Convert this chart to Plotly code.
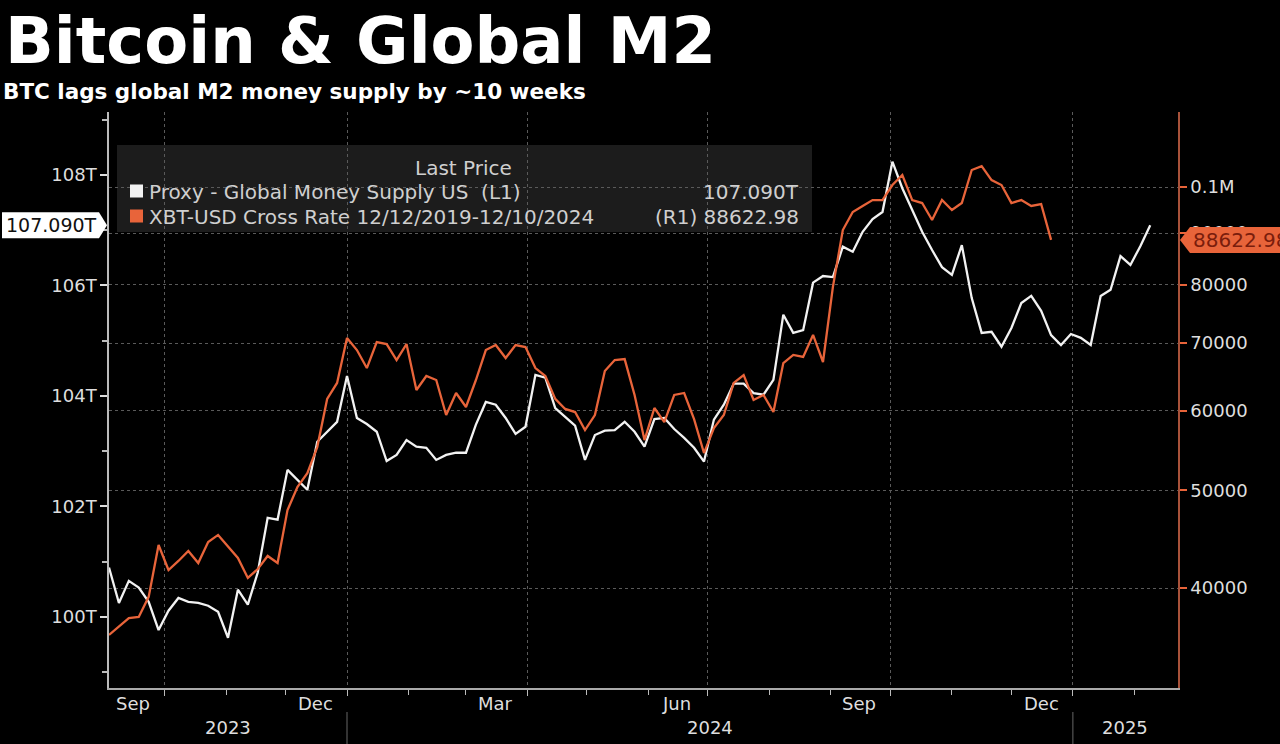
import numpy as np
import pandas as pd
import plotly.graph_objects as go

# ---------------- data ----------------
START_DATE = "2023-09-03"
STEP = "5D"

m2_trillions = [
    100.89, 100.25, 100.65, 100.53, 100.27, 99.76, 100.11, 100.34, 100.27, 100.25,
    100.20, 100.09, 99.62, 100.49, 100.22, 100.80, 101.79, 101.76, 102.66, 102.48,
    102.30, 103.17, 103.35, 103.53, 104.36, 103.60, 103.49, 103.35, 102.82, 102.93,
    103.20, 103.08, 103.06, 102.84, 102.93, 102.97, 102.97, 103.48, 103.89, 103.84,
    103.60, 103.31, 103.44, 104.38, 104.33, 103.78, 103.62, 103.46, 102.84, 103.29,
    103.37, 103.38, 103.53, 103.35, 103.08, 103.58, 103.60, 103.40, 103.24, 103.06,
    102.81, 103.57, 103.84, 104.22, 104.22, 104.05, 104.02, 104.29, 105.47, 105.14,
    105.19, 106.05, 106.17, 106.15, 106.70, 106.61, 106.97, 107.20, 107.33, 108.24,
    107.76, 107.37, 106.97, 106.64, 106.33, 106.19, 106.73, 105.77, 105.14, 105.16,
    104.89, 105.23, 105.68, 105.81, 105.54, 105.10, 104.92, 105.12, 105.05, 104.92,
    105.81, 105.92, 106.53, 106.37, 106.71, 107.090,
]

btc_usd = [
    35940, 36680, 37360, 37450, 39210, 44140, 41690, 42560, 43540, 42360,
    44450, 45170, 43940, 42850, 40940, 41780, 43050, 42360, 47800, 50380,
    52020, 55210, 61630, 63920, 70830, 68910, 66130, 70180, 69860, 67350,
    69860, 62900, 64940, 64350, 59400, 62470, 60500, 64350, 68910, 69700,
    67660, 69700, 69380, 66130, 64940, 61630, 60230, 59810, 57400, 59400,
    65690, 67350, 67500, 62190, 56100, 60360, 58450, 62190, 62470, 58850,
    54460, 57670, 59400, 63920, 65090, 61480, 62190, 59810, 66890, 68150,
    67840, 71330, 67050, 79600, 90640, 94450, 95760, 97070, 97070, 100460,
    102780, 97070, 96410, 92740, 97070, 94880, 96410, 103960, 104910, 101610,
    100460, 96410, 97070, 95760, 96190, 88622.98,
]

left_tick_vals = [100, 102, 104, 106, 108]
left_tick_text = ["100T", "102T", "104T", "106T", "108T"]
right_tick_vals = [40000, 50000, 60000, 70000, 80000, 90000, 100000]
right_tick_text = ["40000", "50000", "60000", "70000", "80000", "90000", "0.1M"]

month_labels = ["Sep", "Dec", "Mar", "Jun", "Sep", "Dec"]
month_label_dates = ["2023-09-15", "2023-12-16", "2024-03-16",
                     "2024-06-15", "2024-09-15", "2024-12-16"]
quarter_starts = ["2023-10-01", "2024-01-01", "2024-04-01",
                  "2024-07-01", "2024-10-01", "2025-01-01"]
year_labels = ["2023", "2024", "2025"]
year_starts = ["2024-01-01", "2025-01-01"]

TITLE = "Bitcoin & Global M2"
SUBTITLE = "BTC lags global M2 money supply by ~10 weeks"
M2_NAME = "Proxy - Global Money Supply US"
BTC_NAME = "XBT-USD Cross Rate 12/12/2019-12/10/2024"

# ---------------- style ----------------
WHITE = "#f2f2f2"
ORANGE = "#e8643a"
TXT = "#dedede"
GRID = "#5a5a5a"
FONT = "DejaVu Sans"

X_RANGE = ["2023-09-03", "2025-02-23"]
Y1 = [98.71, 109.14]
Y2 = [np.log10(31840), np.log10(118700)]

ML, MR, MT, MB = 109, 102, 112, 56
W, H = 1280 - ML - MR, 744 - MT - MB


def px(d):
    return d / W


def ph(d):
    return d / H


def py1(v):
    return (v - Y1[0]) / (Y1[1] - Y1[0])


def py2(v):
    return (np.log10(v) - Y2[0]) / (Y2[1] - Y2[0])


m2_dates = pd.date_range(START_DATE, periods=len(m2_trillions), freq=STEP)
btc_dates = pd.date_range(START_DATE, periods=len(btc_usd), freq=STEP)

fig = go.Figure()
fig.add_trace(go.Scatter(x=btc_dates, y=btc_usd, yaxis="y2", mode="lines",
                         line=dict(color=ORANGE, width=2.3), name=BTC_NAME,
                         showlegend=False))
fig.add_trace(go.Scatter(x=m2_dates, y=m2_trillions, yaxis="y", mode="lines",
                         line=dict(color=WHITE, width=2.3), name=M2_NAME,
                         showlegend=False))

fig.update_layout(
    width=1280, height=744,
    margin=dict(l=ML, r=MR, t=MT, b=MB),
    paper_bgcolor="#000000", plot_bgcolor="rgba(0,0,0,0)",
    font=dict(family=FONT, color=TXT, size=18),
    showlegend=False,
    xaxis=dict(
        type="date", range=X_RANGE, tickvals=quarter_starts, showticklabels=False,
        ticks="outside", ticklen=6, tickcolor="#bbbbbb",
        showgrid=True, gridcolor=GRID, griddash="dot", gridwidth=1,
        showline=True, linecolor="#aaaaaa", linewidth=1.5, zeroline=False,
        minor=dict(dtick="M1", tick0="2023-09-01", ticks="outside", ticklen=5,
                   tickcolor="#bbbbbb", showgrid=False),
    ),
    yaxis=dict(
        range=Y1, tickvals=left_tick_vals, ticktext=left_tick_text,
        ticks="outside", ticklen=7, tickcolor="#dddddd", tickwidth=2,
        showgrid=False, zeroline=False, showline=True, linecolor="#bbbbbb",
        linewidth=1.5, tickfont=dict(size=18, color=TXT),
        minor=dict(dtick=1, tick0=99, ticks="outside", ticklen=5,
                   tickcolor="#bbbbbb", showgrid=False),
    ),
    yaxis2=dict(
        type="log", range=Y2, overlaying="y", side="right",
        tickvals=right_tick_vals, ticktext=right_tick_text,
        ticks="outside", ticklen=7, tickcolor=ORANGE, tickwidth=2,
        showgrid=True, gridcolor=GRID, griddash="dot", gridwidth=1,
        zeroline=False, showline=True, linecolor="#a8523a", linewidth=1.5,
        tickfont=dict(size=18, color=TXT),
    ),
)

shapes = []
ann = []

# legend box
shapes.append(dict(type="rect", xref="paper", yref="paper", layer="below",
                   x0=px(8), x1=px(703), y0=1 - ph(120), y1=1 - ph(33),
                   fillcolor="#1c1c1c", line=dict(width=0)))
# legend squares
for i, col in enumerate([WHITE, ORANGE]):
    yc = 1 - ph(79 + 25 * i)
    shapes.append(dict(type="rect", xref="paper", yref="paper",
                       x0=px(21), x1=px(34), y0=yc - ph(6.5), y1=yc + ph(6.5),
                       fillcolor=col, line=dict(width=0)))

ann.append(dict(text="Last Price", xref="paper", yref="paper", x=px(354),
                y=1 - ph(56), xanchor="center", yanchor="middle", showarrow=False,
                font=dict(size=20, color="#cfcfcf", family=FONT)))
ann.append(dict(text=M2_NAME + "  (L1)", xref="paper", yref="paper", x=px(38),
                y=1 - ph(80), xanchor="left", yanchor="middle", showarrow=False,
                font=dict(size=20, color="#cfcfcf", family=FONT)))
ann.append(dict(text=f"{m2_trillions[-1]:.3f}T", xref="paper", yref="paper",
                x=px(692), y=1 - ph(80), xanchor="right", yanchor="middle",
                showarrow=False, font=dict(size=20, color="#cfcfcf", family=FONT)))
ann.append(dict(text=BTC_NAME, xref="paper", yref="paper", x=px(38),
                y=1 - ph(105), xanchor="left", yanchor="middle", showarrow=False,
                font=dict(size=20, color="#cfcfcf", family=FONT)))
ann.append(dict(text=f"(R1) {btc_usd[-1]:.2f}", xref="paper", yref="paper",
                x=px(692), y=1 - ph(105), xanchor="right", yanchor="middle",
                showarrow=False, font=dict(size=20, color="#cfcfcf", family=FONT)))

# left value tag
yc = py1(m2_trillions[-1])
hh = ph(13)
x0, x1, xp = px(-107), px(-10), px(-2)
shapes.append(dict(type="path", xref="paper", yref="paper",
                   path=f"M {x0},{yc-hh} L {x1},{yc-hh} L {xp},{yc} L {x1},{yc+hh} L {x0},{yc+hh} Z",
                   fillcolor="#ffffff", line=dict(width=0)))
ann.append(dict(text=f"{m2_trillions[-1]:.3f}T", xref="paper", yref="paper",
                x=px(-58), y=yc, xanchor="center", yanchor="middle",
                showarrow=False, font=dict(size=19, color="#111111", family=FONT)))

# right value tag
yc2 = py2(btc_usd[-1])
x0, x1, xp = 1 + px(12), 1 + px(110), 1 + px(2)
shapes.append(dict(type="path", xref="paper", yref="paper",
                   path=f"M {xp},{yc2} L {x0},{yc2+hh} L {x1},{yc2+hh} L {x1},{yc2-hh} L {x0},{yc2-hh} Z",
                   fillcolor=ORANGE, line=dict(width=0)))
ann.append(dict(text=f"{btc_usd[-1]:.2f}", xref="paper", yref="paper",
                x=1 + px(13), y=yc2, xanchor="left", yanchor="middle",
                showarrow=False, font=dict(size=20, color="#7a1d0c", family=FONT)))

# month labels
for lab, d in zip(month_labels, month_label_dates):
    ann.append(dict(text=lab, xref="x", yref="paper", x=d, y=-ph(15),
                    xanchor="center", yanchor="middle", showarrow=False,
                    font=dict(size=18, color=TXT, family=FONT)))

# year labels centred on visible part of each year
bounds = [pd.Timestamp(X_RANGE[0])] + [pd.Timestamp(s) for s in year_starts] + [pd.Timestamp(X_RANGE[1])]
for i, lab in enumerate(year_labels):
    mid = bounds[i] + (bounds[i + 1] - bounds[i]) / 2
    ann.append(dict(text=lab, xref="x", yref="paper", x=mid, y=-ph(39),
                    xanchor="center", yanchor="middle", showarrow=False,
                    font=dict(size=18, color=TXT, family=FONT)))
for s in year_starts:
    shapes.append(dict(type="line", xref="x", yref="paper", x0=s, x1=s,
                       y0=-ph(24), y1=-ph(58), line=dict(color="#666666", width=1)))

# title & subtitle
ann.append(dict(text=f"<b>{TITLE}</b>", xref="paper", yref="paper",
                x=-px(106), y=1 + ph(71), xanchor="left", yanchor="middle",
                showarrow=False, font=dict(size=64, color="#ffffff", family=FONT)))
ann.append(dict(text=f"<b>{SUBTITLE}</b>", xref="paper", yref="paper",
                x=-px(108), y=1 + ph(21), xanchor="left", yanchor="middle",
                showarrow=False, font=dict(size=21.5, color="#ffffff", family=FONT)))

fig.update_layout(shapes=shapes, annotations=ann)
fig.write_html(
    "out.html",
    config={"displayModeBar": False},
    post_script="document.body.style.margin='0';document.body.style.background='#000';",
)
